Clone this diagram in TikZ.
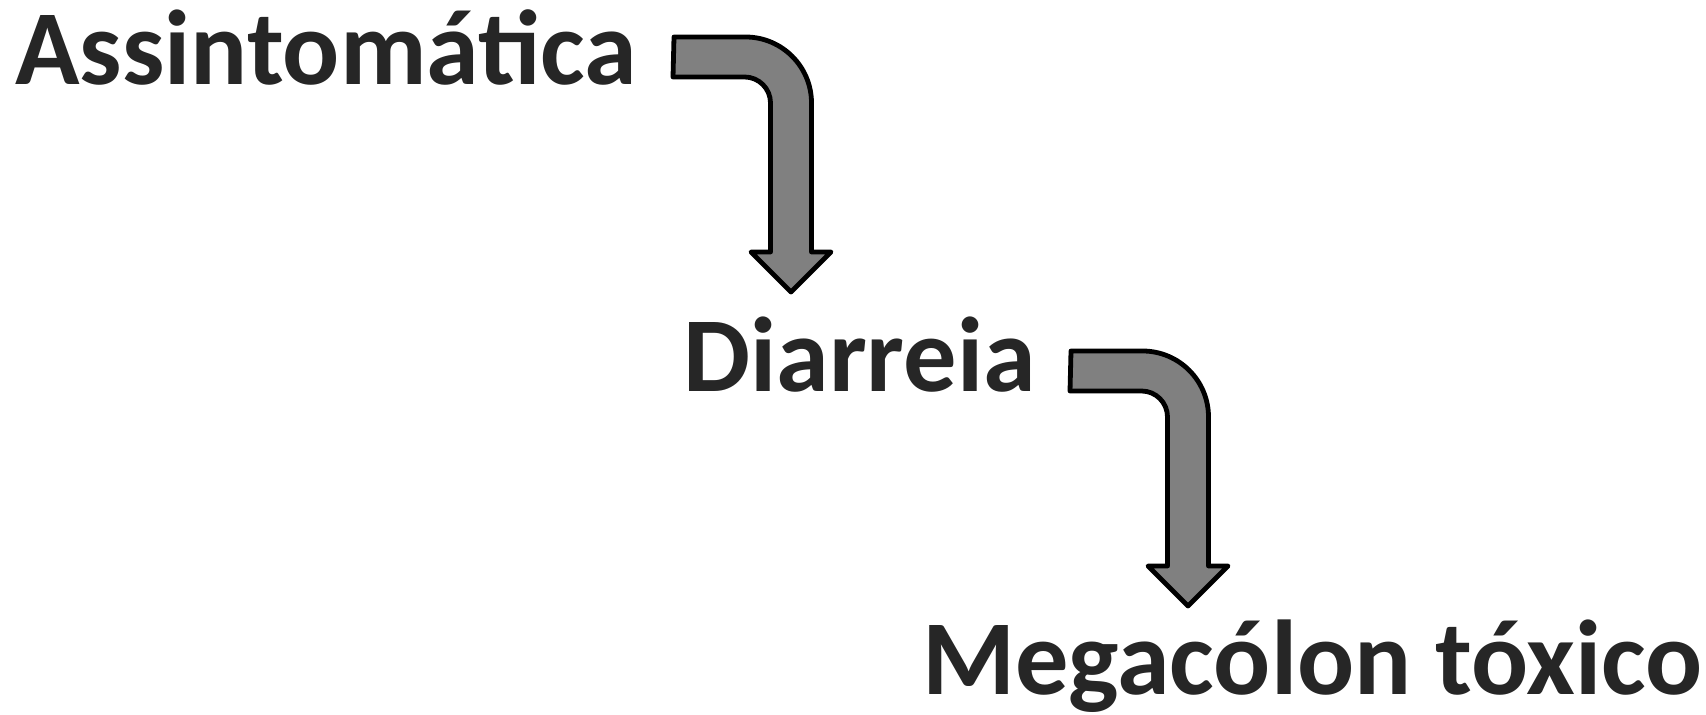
\documentclass[tikz,border=0pt]{standalone}
\usepackage{fontspec}
\setmainfont{Carlito}
\usepackage{xcolor}
\definecolor{textgray}{RGB}{38,38,38}
\definecolor{arrowgray}{RGB}{128,128,128}

\begin{document}
\begin{tikzpicture}[x=0.5pt,y=0.5pt,stage node/.style={inner sep=0pt,text=textgray,font=\fontsize{53.2}{63}\selectfont\bfseries},bent arrow/.style={fill=arrowgray,draw=black,line width=2.4pt,line join=round}]
                \useasboundingbox (0,0) rectangle (1706,715);

                \node[stage node,anchor=base west] (assint) at (15,630) {Assintomática};
                \node[stage node,anchor=base west] (diarreia) at (683,323) {Diarreia};
                \node[stage node,anchor=base east] (megacolon) at (1703,20.5) {Megacólon tóxico};

                \coordinate (arrow1) at (674,678);
                \coordinate (arrow2) at (1071,364);

                \draw[bent arrow] (arrow1) -- ++(71.5,0) arc[start angle=90,end angle=0,radius=66]
                    -- ++(0,-149) -- ++(19.5,0) -- ++(-40,-40) -- ++(-40,40) -- ++(19.5,0)
                    -- ++(0,149) arc[start angle=0,end angle=90,radius=26] -- ++(-71.5,0) -- cycle;

                \draw[bent arrow] (arrow2) -- ++(71.5,0) arc[start angle=90,end angle=0,radius=66]
                    -- ++(0,-149) -- ++(19.5,0) -- ++(-40,-40) -- ++(-40,40) -- ++(19.5,0)
                    -- ++(0,149) arc[start angle=0,end angle=90,radius=26] -- ++(-71.5,0) -- cycle;

            \end{tikzpicture}
\end{document}
